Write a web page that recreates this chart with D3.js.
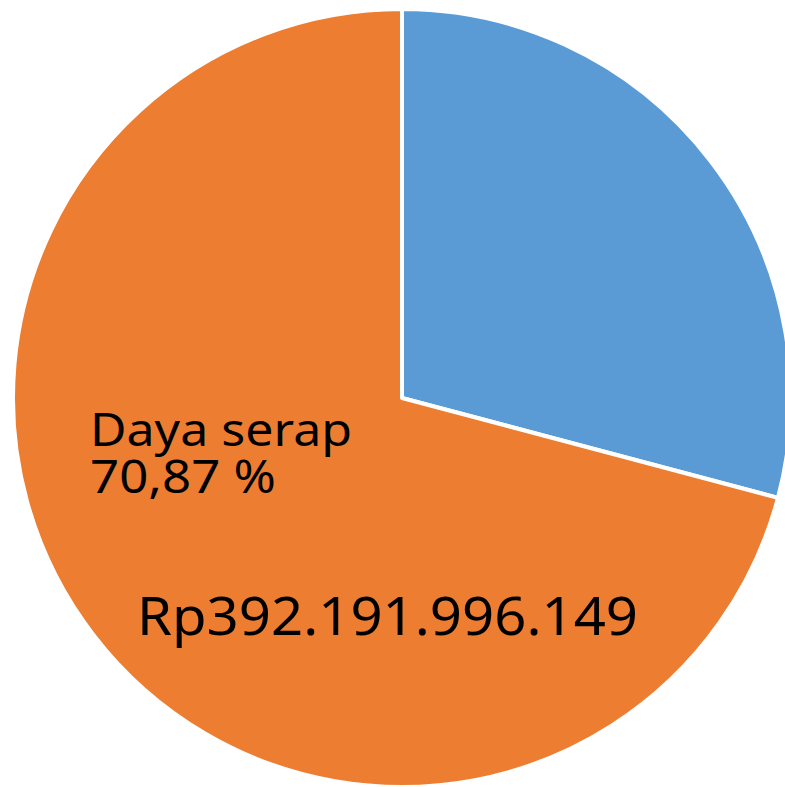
<!DOCTYPE html>
<html>
<head>
<meta charset="utf-8">
<script src="https://cdn.jsdelivr.net/npm/d3@7"></script>
<style>
  body { margin: 0; background: #fff; }
</style>
</head>
<body>
<div id="chart"></div>
<script>
var width = 785, height = 787;
var cx = 402, cy = 398, radius = 389;

// slice data (blue slice first, drawn clockwise from 12 o'clock)
var categories = ["Sisa", "Daya serap"];
var percents = [29.13, 70.87];
var colors = ["#5B9BD5", "#ED7D31"];
var labelLines = ["Daya serap", "70,87 %"];
var amountLabel = "Rp392.191.996.149";

var svg = d3.select("#chart")
  .append("svg")
    .attr("width", width)
    .attr("height", height);

var g = svg.append("g")
    .attr("transform", "translate(" + cx + "," + cy + ")");

var pie = d3.pie().sort(null).value(function(d){ return d; });
var arc = d3.arc().innerRadius(0).outerRadius(radius);

var slices = pie(percents);

g.selectAll("path")
  .data(slices)
  .enter()
  .append("path")
    .attr("d", arc)
    .attr("fill", function(d, i){ return colors[i]; })
    .attr("stroke", "#fff")
    .attr("stroke-width", 4)
    .attr("stroke-linejoin", "round");

// labels for the orange slice
var font = "'Noto Sans', sans-serif";

// two-line category label kept in one text block
var lbl = svg.append("text")
  .attr("font-family", font)
  .attr("font-size", 45);

lbl.append("tspan")
  .attr("x", 90).attr("y", 446)
  .attr("textLength", 262)
  .attr("lengthAdjust", "spacingAndGlyphs")
  .text(labelLines[0]);

lbl.append("tspan")
  .attr("x", 90).attr("y", 493)
  .attr("textLength", 186)
  .attr("lengthAdjust", "spacingAndGlyphs")
  .text(labelLines[1]);

svg.append("text")
  .attr("x", 137).attr("y", 635)
  .attr("font-family", font)
  .attr("font-size", 53)
  .attr("textLength", 501)
  .attr("lengthAdjust", "spacingAndGlyphs")
  .text(amountLabel);
</script>
</body>
</html>
